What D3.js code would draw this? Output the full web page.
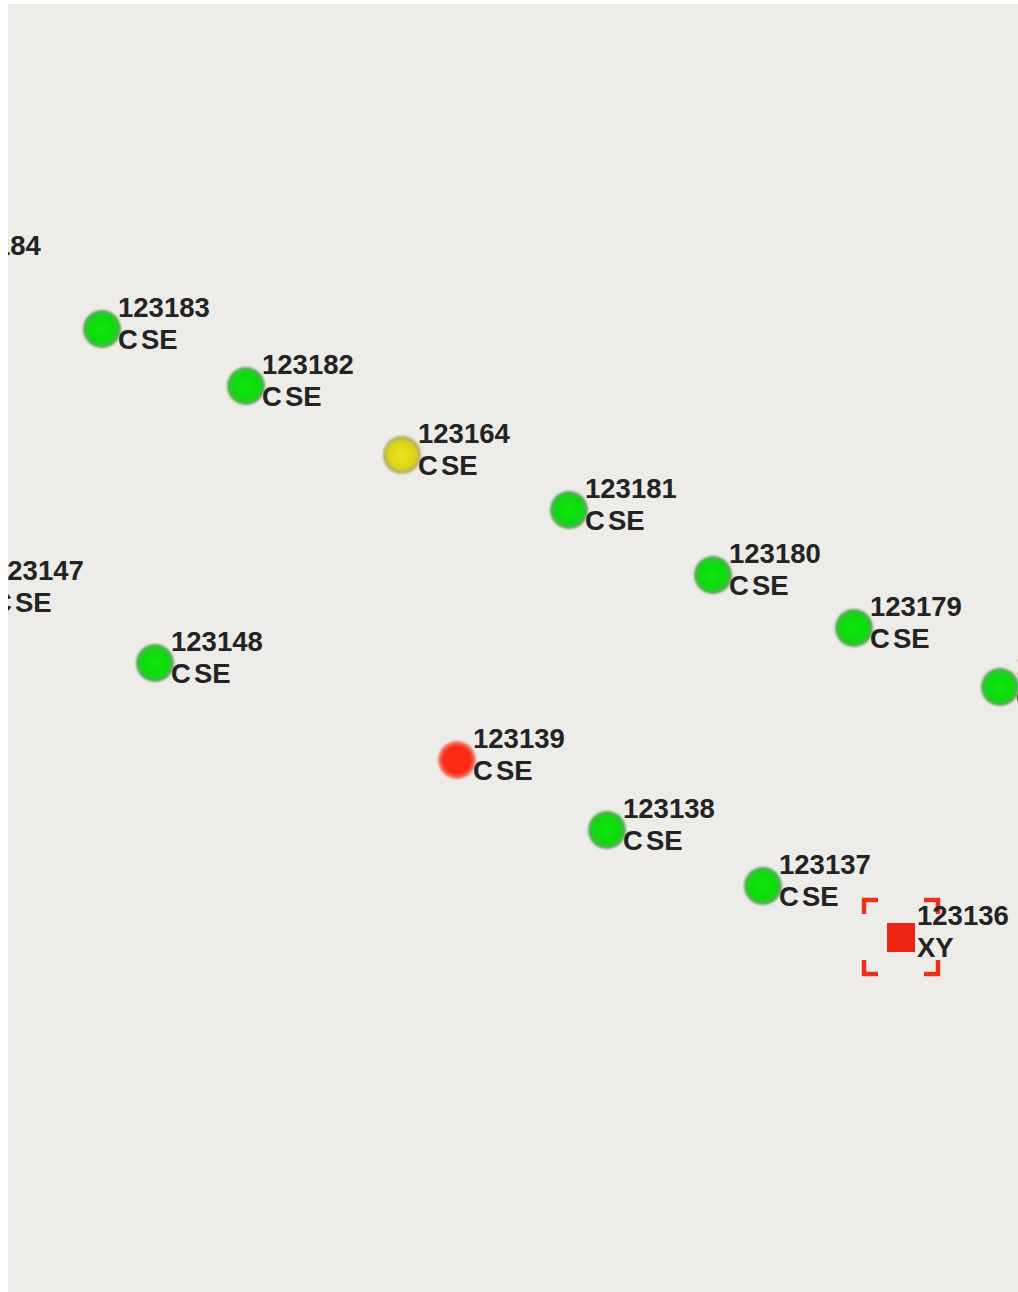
<!DOCTYPE html>
<html>
<head>
<meta charset="utf-8">
<script src="https://cdn.jsdelivr.net/npm/d3@7"></script>
<style>
  body { margin: 0; background: #ffffff; }
  svg { display: block; }
  .lbl { font-family: "Liberation Sans", Arial, sans-serif; font-weight: bold; font-size: 27.5px; fill: #232323; }
</style>
</head>
<body>
<script>
// node data (positions in map units)
var nodeIds    = ["123184", "123183", "123182", "123164", "123181", "123180", "123179", "123178",
                  "123147", "123148", "123139", "123138", "123137", "123136"];
var nodeTypes  = ["CSE", "CSE", "CSE", "CSE", "CSE", "CSE", "CSE", "CSE",
                  "CSE", "CSE", "CSE", "CSE", "CSE", "XY"];
var nodeX      = [-75, 94, 238, 394, 561, 705, 846, 992, -32, 147, 449, 599, 755, 893];
var nodeY      = [263, 325, 382, 451, 506, 571, 624, 683, 588, 659, 756, 826, 882, 933];
var nodeStatus = ["ok", "ok", "ok", "warn", "ok", "ok", "ok", "ok",
                  "ok", "ok", "alarm", "ok", "ok", "alarm"];
var selectedId = "123136";

var W = 1018, H = 1292;
var pad = {left: 8, top: 4};

var svg = d3.select("body").append("svg")
    .attr("width", W)
    .attr("height", H);

var defs = svg.append("defs");

// the map panel clips everything drawn on it
defs.append("clipPath").attr("id", "panel")
  .append("rect")
    .attr("x", pad.left).attr("y", pad.top)
    .attr("width", W - pad.left).attr("height", H - pad.top);

svg.append("rect")
    .attr("x", pad.left).attr("y", pad.top)
    .attr("width", W - pad.left).attr("height", H - pad.top)
    .attr("fill", "#edece8");

var x = d3.scaleLinear().domain([0, 1010]).range([pad.left, W]);
var y = d3.scaleLinear().domain([0, 1288]).range([pad.top, H]);

//soft edge for the status lamps
var blur = defs.append("filter").attr("id", "soft")
    .attr("x", "-30%").attr("y", "-30%").attr("width", "160%").attr("height", "160%");
blur.append("feGaussianBlur").attr("stdDeviation", 1.3);

var lampColors = {
  ok:    ["#08e808", "#12d812", "#5fa05f"],
  warn:  ["#eee41c", "#dcd418", "#a8a476"],
  alarm: ["#ff2a10", "#f82a14", "#f08a80"]
};
Object.keys(lampColors).forEach(function (k) {
  var g = defs.append("radialGradient").attr("id", "lamp-" + k);
  g.append("stop").attr("offset", "0").attr("stop-color", lampColors[k][0]);
  g.append("stop").attr("offset", "0.72").attr("stop-color", lampColors[k][1]);
  g.append("stop").attr("offset", "1").attr("stop-color", lampColors[k][2]);
});

var nodes = nodeIds.map(function (id, i) {
  return {id: id, type: nodeTypes[i], x: nodeX[i], y: nodeY[i], status: nodeStatus[i]};
});

var plot = svg.append("g").attr("clip-path", "url(#panel)");

var node = plot.selectAll(".node")
    .data(nodes)
  .enter().append("g")
    .attr("class", "node")
    .attr("transform", function (d) { return "translate(" + x(d.x) + "," + y(d.y) + ")"; });

// CSE nodes are round lamps, XY nodes are squares
node.filter(function (d) { return d.type !== "XY"; })
  .append("circle")
    .attr("r", 19)
    .attr("fill", function (d) { return "url(#lamp-" + d.status + ")"; })
    .attr("filter", "url(#soft)");

node.filter(function (d) { return d.type === "XY"; })
  .append("rect")
    .attr("x", -14).attr("y", -14)
    .attr("width", 28).attr("height", 29)
    .attr("fill", "#ee2412");

// selection brackets
var sel = node.filter(function (d) { return d.id === selectedId; });
var b = 37, arm = 14;
[[-1, -1], [1, -1], [-1, 1], [1, 1]].forEach(function (c) {
  var cx = c[0] * b, cy = c[1] * b;
  sel.append("path")
      .attr("d", "M" + cx + "," + (cy - c[1] * arm) + "L" + cx + "," + cy + "L" + (cx - c[0] * arm) + "," + cy)
      .attr("fill", "none")
      .attr("stroke", "#e8321e")
      .attr("stroke-width", 4.5);
});

var label = node.append("text")
    .attr("class", "lbl")
    .attr("x", 16);

label.append("tspan")
    .attr("x", 16)
    .attr("y", -12)
    .text(function (d) { return d.id; });

label.append("tspan")
    .attr("x", 16)
    .attr("y", 20)
    .text(function (d) { return d.type.charAt(0); });

label.append("tspan")
    .attr("dx", function (d) { return d.type === "CSE" ? 3 : 0; })
    .text(function (d) { return d.type.slice(1); });
</script>
</body>
</html>
